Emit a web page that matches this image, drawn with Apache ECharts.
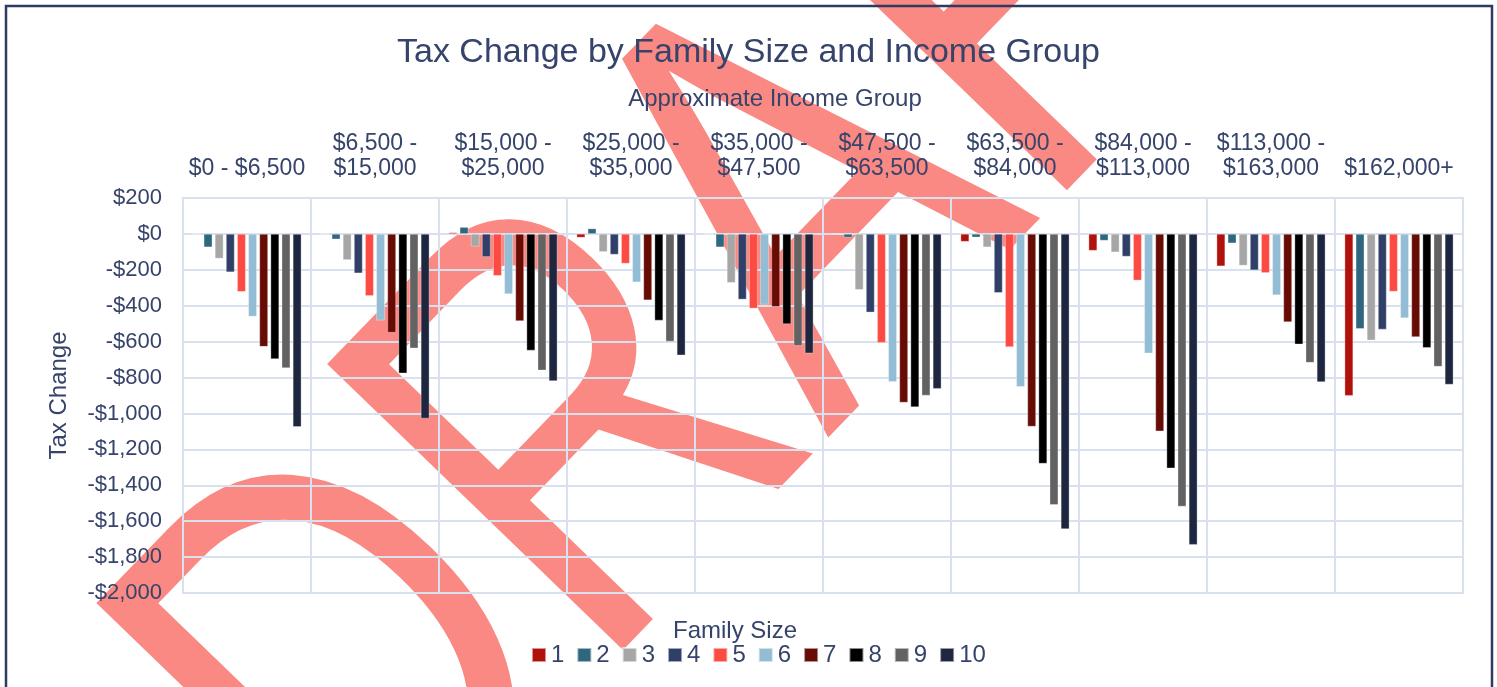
<!DOCTYPE html>
<html>
<head>
<meta charset="utf-8">
<title>Tax Change by Family Size and Income Group</title>
<script src="https://cdn.jsdelivr.net/npm/echarts@6/dist/echarts.min.js"></script>
<style>
  html, body { margin: 0; padding: 0; background: #fff; }
  #chart { width: 1497px; height: 687px; }
</style>
</head>
<body>
<div id="chart"></div>
<script>
const incomeGroups = [
  '$0 - $6,500', '$6,500 -\n$15,000', '$15,000 -\n$25,000', '$25,000 -\n$35,000',
  '$35,000 -\n$47,500', '$47,500 -\n$63,500', '$63,500 -\n$84,000',
  '$84,000 -\n$113,000', '$113,000 -\n$163,000', '$162,000+'
];
const familySizes = ['1', '2', '3', '4', '5', '6', '7', '8', '9', '10'];

// tax change per income group, one array per family size
const size1 = [0, 0, 8, -20, 0, 0, -43, -93, -180, -901];
const size2 = [-74, -30, 38, 30, -74, -20, -19, -37, -52, -528];
const size3 = [-137, -145, -70, -100, -272, -311, -74, -102, -176, -593];
const size4 = [-213, -219, -128, -115, -365, -437, -328, -126, -202, -532];
const size5 = [-322, -345, -233, -165, -415, -606, -630, -259, -217, -321];
const size6 = [-460, -482, -335, -269, -393, -823, -852, -665, -341, -469];
const size7 = [-628, -550, -485, -369, -406, -939, -1073, -1099, -491, -574];
const size8 = [-697, -776, -649, -482, -502, -965, -1279, -1305, -615, -634];
const size9 = [-747, -637, -760, -599, -623, -900, -1509, -1518, -717, -739];
const size10 = [-1075, -1028, -819, -676, -665, -862, -1644, -1731, -825, -839];
const allSizes = [size1, size2, size3, size4, size5, size6, size7, size8, size9, size10];

const colors = ['#b0110a', '#2f6680', '#a6a6a6', '#2f3f68', '#fb4b42',
  '#92bdd5', '#670b05', '#000000', '#626262', '#1f2740'];

const textColor = '#36436a';
const gridColor = '#d9e1ef';
const font = '"Liberation Sans", Arial, sans-serif';

const money = v => (v < 0 ? '-' : '') + '$' + Math.abs(v).toLocaleString('en-US');

const chart = echarts.init(document.getElementById('chart'));

chart.setOption({
  color: colors,
  textStyle: { fontFamily: font, color: textColor },
  title: {
    text: 'Tax Change by Family Size and Income Group',
    left: 'center',
    top: 31,
    textStyle: { fontFamily: font, fontSize: 34, fontWeight: 'normal', color: textColor }
  },
  graphic: [
    {
      // DRAFT watermark behind the plot
      type: 'text',
      x: 780,
      y: 250,
      rotation: 46 * Math.PI / 180,
      scaleY: 1.3,
      z: -10,
      silent: true,
      style: {
        text: 'DRAFT',
        font: '460px "Liberation Sans"',
        fill: '#fa8983',
        align: 'center',
        verticalAlign: 'middle'
      }
    },
    {
      type: 'rect',
      shape: { x: 6, y: 6, width: 1486, height: 700 },
      style: { fill: 'none', stroke: '#2e3b60', lineWidth: 2.5 },
      silent: true
    },
    {
      type: 'text',
      x: 775,
      y: 99,
      style: { text: 'Approximate Income Group', font: '24px ' + font, fill: textColor,
        align: 'center', verticalAlign: 'middle' }
    },
    {
      type: 'text',
      x: 735,
      y: 631,
      style: { text: 'Family Size', font: '24px ' + font, fill: textColor,
        align: 'center', verticalAlign: 'middle' }
    }
  ],
  legend: {
    data: familySizes,
    left: 526,
    top: 638,
    itemWidth: 14,
    itemHeight: 14,
    itemGap: 12,
    icon: 'rect',
    textStyle: { fontFamily: font, fontSize: 24, color: textColor }
  },
  grid: {
    left: 183,
    right: 34,
    top: 198,
    bottom: 94,
    show: true,
    borderColor: gridColor,
    borderWidth: 2
  },
  xAxis: {
    type: 'category',
    position: 'top',
    data: incomeGroups,
    axisLine: { show: false },
    axisTick: { show: false },
    axisLabel: {
      interval: 0,
      margin: 17,
      fontSize: 23,
      lineHeight: 25,
      color: textColor,
      fontFamily: font
    },
    splitLine: { show: true, lineStyle: { color: gridColor, width: 2 } }
  },
  yAxis: {
    type: 'value',
    min: -2000,
    max: 200,
    interval: 200,
    name: 'Tax Change',
    nameLocation: 'middle',
    nameGap: 112,
    nameTextStyle: { fontSize: 24, color: textColor, fontFamily: font },
    axisLine: { show: false },
    axisTick: { show: false },
    axisLabel: { formatter: money, fontSize: 22, margin: 21, color: textColor, fontFamily: font },
    splitLine: { lineStyle: { color: gridColor, width: 2 } }
  },
  series: allSizes.map((vals, i) => ({
    name: familySizes[i],
    type: 'bar',
    data: vals,
    barGap: '30%',
    barCategoryGap: '15%',
    itemStyle: { borderColor: 'rgba(255,255,255,0.55)', borderWidth: 0.6 }
  }))
});
</script>
</body>
</html>
